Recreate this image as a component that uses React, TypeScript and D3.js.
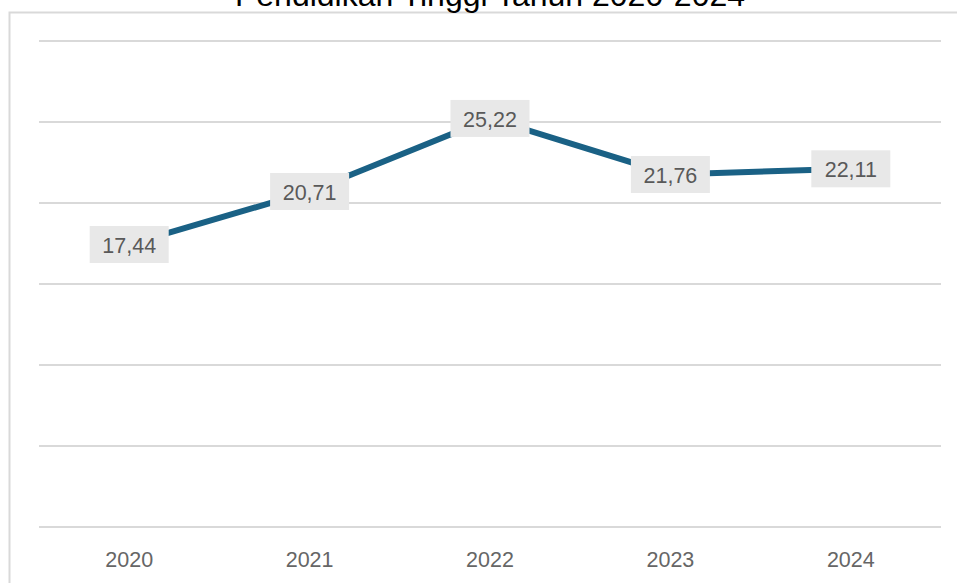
import React from 'react';
import * as d3 from 'd3';

const years = ['2020', '2021', '2022', '2023', '2024'];
const values = [17.44, 20.71, 25.22, 21.76, 22.11];
const yTicks = [0, 5, 10, 15, 20, 25, 30];
const title = 'Pendidikan Tinggi Tahun 2020-2024';

const W = 957;
const H = 583;

export default function App() {
  const x = d3.scaleBand<string>().domain(years).range([39, 941]);
  const y = d3.scaleLinear().domain([0, 30]).range([527, 41]);

  const pts = values.map((v, i) => [x(years[i])! + x.bandwidth() / 2, y(v)] as [number, number]);
  const line = d3.line()(pts) || '';
  const fmt = (v: number) => v.toFixed(2).replace('.', ',');

  return (
    <svg width={W} height={H} style={{ position: 'absolute', left: 0, top: 0, fontFamily: 'Liberation Sans, Arial, sans-serif' }}>
      <rect x={0} y={0} width={W} height={H} fill="#fff" />
      <rect x={9.5} y={12.5} width={980} height={620} fill="none" stroke="#d9d9d9" strokeWidth={2} />
      <text x={490} y={6} textAnchor="middle" fontSize={32} fill="#000">{title}</text>
      {yTicks.map(t => (
        <line key={t} x1={39} x2={941} y1={y(t)} y2={y(t)} stroke="#d9d9d9" strokeWidth={2} />
      ))}
      <path d={line} fill="none" stroke="#1a6185" strokeWidth={6} />
      {years.map(yr => (
        <text key={yr} x={x(yr)! + x.bandwidth() / 2} y={567} textAnchor="middle" fontSize={21.5} fill="#666">{yr}</text>
      ))}
      {values.map((v, i) => (
        <g key={i} transform={`translate(${pts[i][0]},${pts[i][1]})`}>
          <rect x={-39.5} y={-18.5} width={79} height={37} fill="#e8e8e8" />
          <text x={0} y={8.5} textAnchor="middle" fontSize={21.5} fill="#595959">{fmt(v)}</text>
        </g>
      ))}
    </svg>
  );
}
